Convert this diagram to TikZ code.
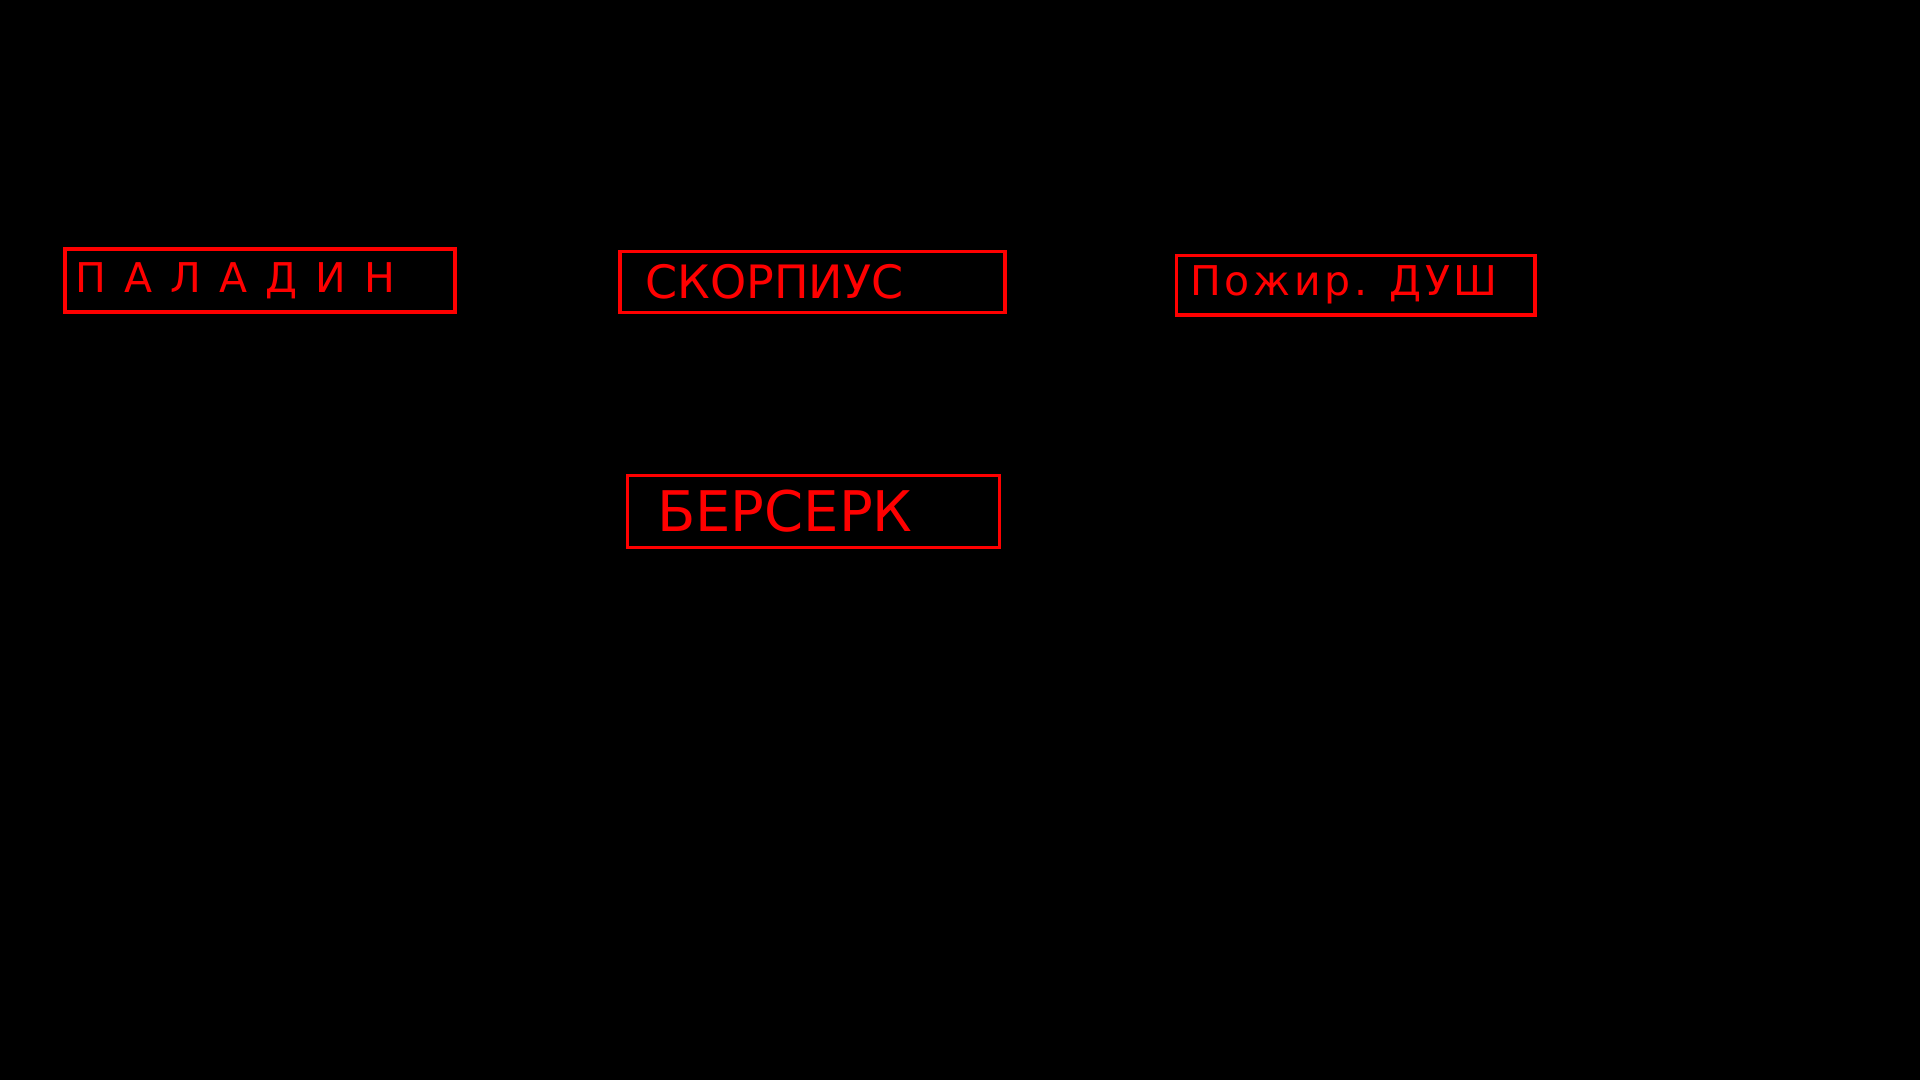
\documentclass[tikz,border=0pt]{standalone}
\usepackage{fontspec}
\setmainfont{DejaVu Sans}
\usepackage{xcolor}
\definecolor{heroRed}{RGB}{255, 0, 0}
\usepackage{tikz}
\usetikzlibrary{positioning}

\tikzset{
    heroBox/.style={draw=heroRed, line width=3.5pt, inner sep=0pt},
    heroText/.style={text=heroRed, inner sep=0pt}
}

\begin{document}
\begin{tikzpicture}[x=1pt, y=-1pt]
    \fill[black] (0, 0) rectangle (1920, 1080);

    \node[heroBox, minimum width=390pt, minimum height=63pt] (paladinBox) at (260, 280.5) {};
    \node[heroText, font=\fontsize{41}{41}\selectfont\addfontfeature{LetterSpace=44}, right=12pt of paladinBox.west] (paladinText) {ПАЛАДИН};

    \node[heroBox, minimum width=385pt, minimum height=60.6pt] (scorpBox) at (812.5, 282) {};
    \node[heroText, font=\fontsize{46}{46}\selectfont, right=27pt of scorpBox.west] (scorpText) {СКОРПИУС};

    \node[heroBox, minimum width=358.3pt, minimum height=59.3pt] (soulBox) at (1355.8, 285.3) {};
    \node[heroText, font=\fontsize{41}{41}\selectfont\addfontfeature{LetterSpace=9}, right=15pt of soulBox.west] (soulText) {Пожир. ДУШ};

    \node[heroBox, minimum width=371.6pt, minimum height=71.6pt] (berserkBox) at (813.5, 511.5) {};
    \node[heroText, font=\fontsize{56}{56}\selectfont, right=31pt of berserkBox.west] (berserkText) {БЕРСЕРК};
\end{tikzpicture}
\end{document}
